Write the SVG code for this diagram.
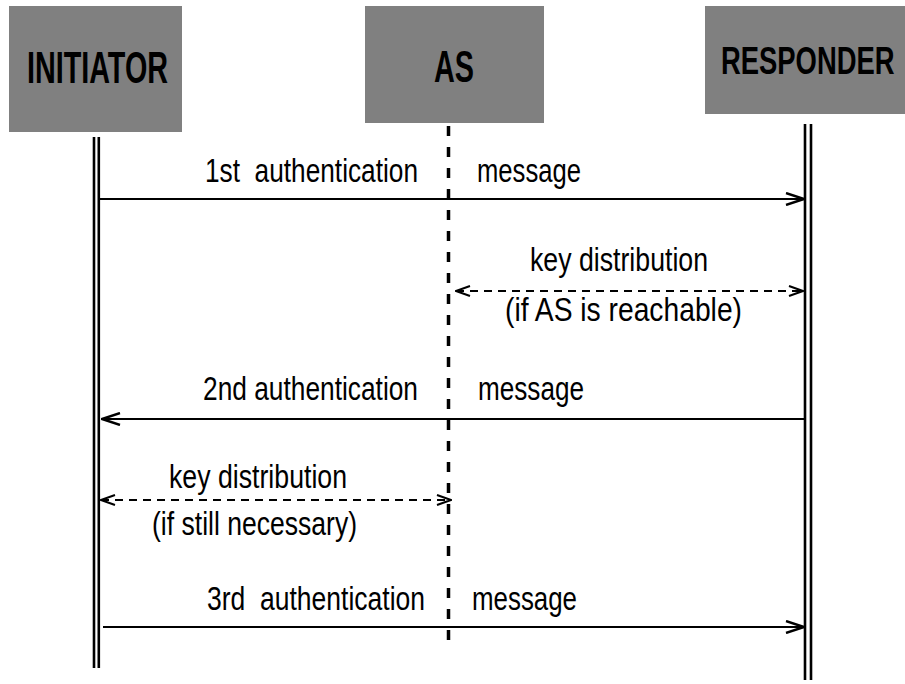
<svg xmlns="http://www.w3.org/2000/svg" width="905" height="684" viewBox="0 0 905 684">
<style>
.box{fill:#808080;stroke:none}
.hd{font-family:"Liberation Sans",Arial,sans-serif;font-weight:bold;fill:#000}
.lb{font-family:"Liberation Sans",Arial,sans-serif;font-size:33px;fill:#000;white-space:pre}
.life{stroke:#000;stroke-width:2.6;fill:none}
.asl{stroke:#000;stroke-width:3.5;stroke-dasharray:10 11;fill:none}
.msg{stroke:#000;stroke-width:2.2;fill:none}
.kd{stroke:#000;stroke-width:2;stroke-dasharray:8 6;fill:none}
</style>
<defs>
<marker id="ah" viewBox="0 0 20 14" refX="19" refY="7" markerWidth="20" markerHeight="14" markerUnits="userSpaceOnUse" orient="auto-start-reverse">
<path d="M1,1 L19,7 L1,13" fill="none" stroke="#000" stroke-width="2.4"/>
</marker>
<marker id="ahs" viewBox="0 0 16 12" refX="15" refY="6" markerWidth="16" markerHeight="12" markerUnits="userSpaceOnUse" orient="auto-start-reverse">
<path d="M1,1 L15,6 L1,11" fill="none" stroke="#000" stroke-width="2"/>
</marker>
</defs>
<g id="initiator">
<rect class="box" x="9" y="6" width="173" height="126"/>
<text class="hd" x="27" y="83" font-size="45" textLength="141" lengthAdjust="spacingAndGlyphs">INITIATOR</text>
<line class="life" x1="94" y1="137" x2="94" y2="668"/>
<line class="life" x1="98.8" y1="137" x2="98.8" y2="668"/>
</g>
<g id="as">
<rect class="box" x="365" y="6" width="179" height="117"/>
<text class="hd" x="434" y="82" font-size="45" textLength="40" lengthAdjust="spacingAndGlyphs">AS</text>
<line class="asl" x1="448.5" y1="126" x2="448.5" y2="650"/>
</g>
<g id="responder">
<rect class="box" x="705" y="6" width="200" height="108"/>
<text class="hd" transform="translate(721,74) scale(0.703,1)" x="0" y="0" font-size="39">RESPONDER</text>
<line class="life" x1="805" y1="124" x2="805" y2="680"/>
<line class="life" x1="811" y1="124" x2="811" y2="680"/>
</g>
<g id="connectors">
<line class="msg" x1="99" y1="199" x2="804" y2="199" marker-end="url(#ah)"/>
<line class="kd" x1="456" y1="291" x2="803" y2="291" marker-start="url(#ahs)" marker-end="url(#ahs)"/>
<line class="msg" x1="804" y1="419" x2="102" y2="419" marker-end="url(#ah)"/>
<line class="kd" x1="101" y1="500" x2="451" y2="500" marker-start="url(#ahs)" marker-end="url(#ahs)"/>
<line class="msg" x1="103" y1="627" x2="804" y2="627" marker-end="url(#ah)"/>
</g>
<g id="labels">
<text class="lb" x="205" y="182" textLength="213" lengthAdjust="spacingAndGlyphs">1st  authentication</text>
<text class="lb" x="477" y="182" textLength="104" lengthAdjust="spacingAndGlyphs">message</text>
<text class="lb" x="530" y="271" textLength="178" lengthAdjust="spacingAndGlyphs">key distribution</text>
<text class="lb" x="505" y="321" textLength="237" lengthAdjust="spacingAndGlyphs">(if AS is reachable)</text>
<text class="lb" x="203" y="400" textLength="215" lengthAdjust="spacingAndGlyphs">2nd authentication</text>
<text class="lb" x="478" y="400" textLength="106" lengthAdjust="spacingAndGlyphs">message</text>
<text class="lb" x="169" y="488" textLength="178" lengthAdjust="spacingAndGlyphs">key distribution</text>
<text class="lb" x="152" y="535" textLength="205" lengthAdjust="spacingAndGlyphs">(if still necessary)</text>
<text class="lb" x="207" y="610" textLength="218" lengthAdjust="spacingAndGlyphs">3rd  authentication</text>
<text class="lb" x="472" y="610" textLength="105" lengthAdjust="spacingAndGlyphs">message</text>
</g>
</svg>
